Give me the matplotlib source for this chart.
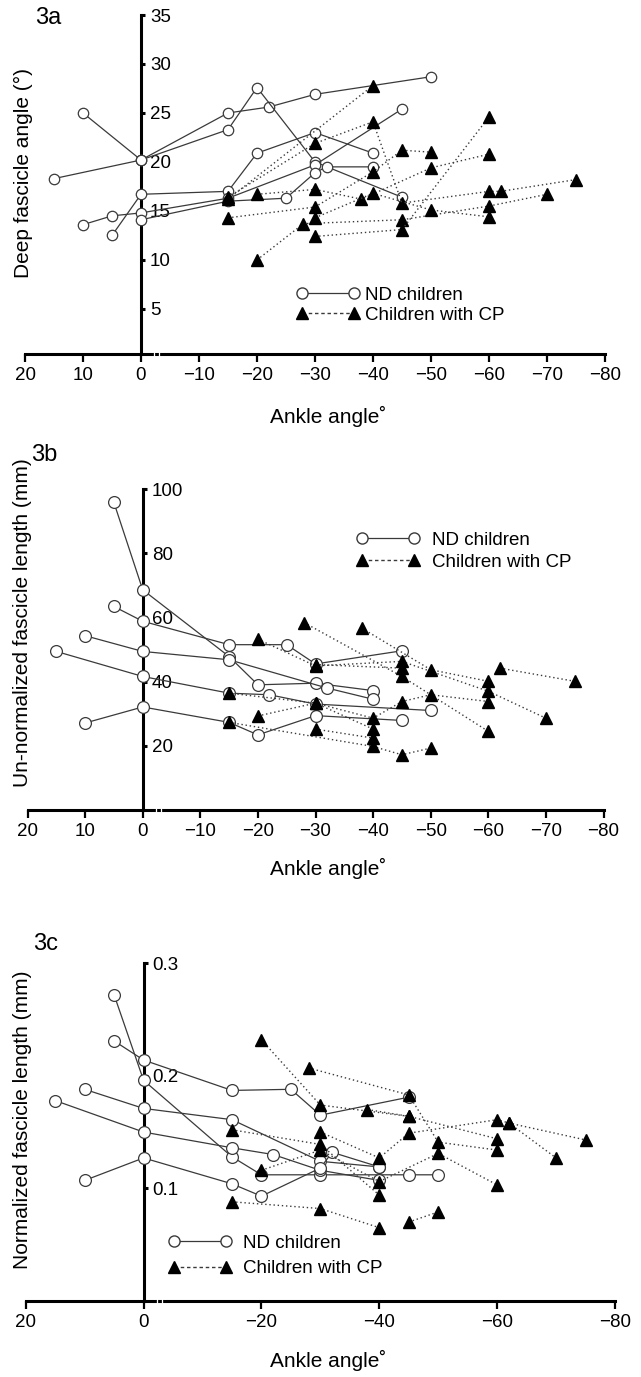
import matplotlib
matplotlib.use("Agg")
import matplotlib.pyplot as plt
from matplotlib.lines import Line2D

plt.rcParams["font.family"] = ["Liberation Sans", "DejaVu Sans"]

# ---- panel 3a: deep fascicle angle (deg) vs ankle angle ----
ND_A_X = [[15, 0, -15, -22, -30, -50],
          [10, 0, -15, -20, -30, -45],
          [5, 0, -15, -20, -30, -40],
          [10, 5, 0, -15, -30, -45],
          [0, -15, -25, -30, -32, -40]]
ND_A_Y = [[18.3, 20.2, 25.0, 25.6, 26.9, 28.7],
          [25.0, 20.2, 23.3, 27.6, 20.0, 16.4],
          [12.5, 16.7, 17.0, 20.9, 23.0, 20.9],
          [13.6, 14.5, 14.8, 16.3, 19.7, 25.4],
          [14.1, 16.0, 16.3, 18.9, 19.5, 19.5]]
CP_A_X = [[-15, -40],
          [-15, -30, -40, -45, -60, -62, -75],
          [-20, -28, -45, -60, -70],
          [-15, -30, -40, -45, -50],
          [-30, -45, -60],
          [-20, -30, -38, -50, -60],
          [-30, -40, -50, -60]]
CP_A_Y = [[16.2, 27.8],
          [16.4, 21.9, 24.1, 15.8, 17.0, 17.0, 18.2],
          [10.0, 13.7, 14.1, 15.5, 16.7],
          [14.3, 15.4, 19.0, 21.2, 21.0],
          [12.4, 13.1, 24.6],
          [16.7, 17.2, 16.2, 19.4, 20.8],
          [14.3, 16.8, 15.1, 14.4]]

# ---- panel 3b: un-normalized fascicle length (mm) ----
ND_B_X = [[5, 0, -15, -20, -30, -40],
          [5, 0, -15, -25, -30, -45],
          [10, 0, -15, -32, -40],
          [15, 0, -15, -22, -30, -50],
          [10, 0, -15, -20, -30, -45]]
ND_B_Y = [[95.8, 68.6, 47.8, 39.0, 39.5, 37.2],
          [63.4, 58.8, 51.5, 51.5, 45.5, 49.6],
          [54.3, 49.4, 46.8, 38.0, 34.5],
          [49.4, 41.6, 36.4, 35.9, 33.0, 31.0],
          [27.1, 32.1, 27.3, 23.4, 29.4, 27.9]]
CP_B_X = [[-20, -30, -45, -60, -70],
          [-28, -45, -60],
          [-38, -50, -60],
          [-62, -75],
          [-15, -30, -40, -45, -50, -60],
          [-20, -30, -40],
          [-15, -40, -45, -50],
          [-30, -40],
          [-30, -45]]
CP_B_Y = [[53.2, 44.9, 46.3, 37.0, 28.6],
          [58.4, 41.6, 24.5],
          [56.7, 43.7, 40.1],
          [44.2, 40.1],
          [36.4, 33.3, 28.6, 33.8, 35.9, 33.8],
          [29.3, 33.3, 25.2],
          [27.3, 19.8, 17.2, 19.3],
          [25.2, 22.4],
          [45.3, 44.2]]

# ---- panel 3c: normalized fascicle length ----
ND_C_X = [[5, 0, -15, -20, -30, -45, -50],
          [5, 0, -15, -25, -30, -45],
          [10, 0, -15, -30, -40],
          [15, 0, -15, -22, -30, -40],
          [10, 0, -15, -20, -30, -32, -40]]
ND_C_Y = [[0.272, 0.196, 0.128, 0.112, 0.112, 0.112, 0.112],
          [0.231, 0.214, 0.187, 0.188, 0.165, 0.181],
          [0.188, 0.171, 0.161, 0.124, 0.119],
          [0.178, 0.150, 0.136, 0.130, 0.116, 0.107],
          [0.107, 0.127, 0.104, 0.093, 0.118, 0.132, 0.119]]
CP_C_X = [[-20, -30, -45, -60],
          [-28, -45, -50, -60],
          [-30, -40, -45, -60, -62, -75],
          [-38, -45],
          [-15, -30, -40],
          [-15, -30, -40],
          [-45, -50],
          [-20, -30, -40, -50, -60],
          [-62, -70]]
CP_C_Y = [[0.232, 0.174, 0.164, 0.144],
          [0.207, 0.183, 0.141, 0.134],
          [0.150, 0.127, 0.149, 0.161, 0.158, 0.143],
          [0.170, 0.164],
          [0.152, 0.139, 0.094],
          [0.088, 0.082, 0.065],
          [0.070, 0.079],
          [0.116, 0.134, 0.106, 0.131, 0.103],
          [0.158, 0.127]]

W, H = 641, 1377
GREY = "#3a3a3a"
FS_TICK = 13.5
FS_LAB = 15


def px_box(left, right, top, bottom):
    return [left / W, 1 - bottom / H, (right - left) / W, (bottom - top) / H]


def draw_panel(ax, ndx, ndy, cpx, cpy, ylim, yticks, yticklabels, xticks, ms_c):
    for xs, ys in zip(ndx, ndy):
        ax.plot(xs, ys, color=GREY, lw=0.9, marker="o", ms=ms_c,
                mfc="white", mec=GREY, mew=0.9, zorder=3)
    for xs, ys in zip(cpx, cpy):
        ax.plot(xs, ys, color=GREY, lw=1.0, ls=(0, (1, 2)), marker="^", ms=9,
                mfc="black", mec="black", zorder=4)
    ax.set_xlim(20, -80)
    ax.set_ylim(*ylim)
    for s in ("top", "left"):
        ax.spines[s].set_visible(False)
    ax.spines["right"].set_position(("data", 0))
    ax.spines["right"].set_linewidth(2.2)
    ax.spines["bottom"].set_linewidth(2.2)
    ax.yaxis.set_ticks_position("right")
    ax.set_yticks(yticks)
    ax.set_yticklabels(yticklabels)
    ax.set_xticks(xticks)
    ax.tick_params(axis="x", direction="out", length=6, width=1.6, pad=3.5,
                   labelsize=FS_TICK)
    ax.tick_params(axis="y", direction="out", length=3, width=2.2, pad=3.5,
                   labelsize=FS_TICK)
    # small break marks on the ankle-angle axis
    for xb in (-2.3, -3.1):
        ax.plot([xb, xb], [-0.012, 0.012], transform=ax.get_xaxis_transform(),
                color="white", lw=0.9, clip_on=False, zorder=10)


def add_legend(ax, fig, x_marker1, y_row1, gap_text, row_gap):
    fs_px = FS_TICK * 100 / 72
    nd = Line2D([], [], color=GREY, lw=0.9, marker="o", ms=8, mfc="white", mec=GREY)
    cp = Line2D([], [], color=GREY, lw=1.0, ls=(0, (2.5, 2)), marker="^", ms=9,
                mfc="black", mec="black")
    hl = (52 + 0.6 * fs_px) / fs_px
    text_h = 1.117 * fs_px - 3.5   # measured row pitch at labelspacing 0
    leg = ax.legend([nd, cp], ["ND children", "Children with CP"], numpoints=2,
                    frameon=False, fontsize=FS_TICK, handlelength=hl,
                    handletextpad=(gap_text - 0.3 * fs_px) / fs_px,
                    labelspacing=(row_gap - text_h) / fs_px,
                    borderpad=0, borderaxespad=0, loc="upper left",
                    bbox_to_anchor=((x_marker1 - 0.3 * fs_px) / W,
                                    1 - (y_row1 - 6.5) / H),
                    bbox_transform=fig.transFigure)
    return leg


fig = plt.figure(figsize=(W / 100, H / 100), dpi=100)

ax_a = fig.add_axes(px_box(25, 605, 15, 354))
draw_panel(ax_a, ND_A_X, ND_A_Y, CP_A_X, CP_A_Y, (0.4, 35),
           [5, 10, 15, 20, 25, 30, 35], ["5", "10", "15", "20", "25", "30", "35"],
           list(range(20, -81, -10)), 7.5)
add_legend(ax_a, fig, 302, 293, 11, 20.5)

ax_b = fig.add_axes(px_box(27.5, 603.5, 489, 810))
draw_panel(ax_b, ND_B_X, ND_B_Y, CP_B_X, CP_B_Y, (0, 100),
           [20, 40, 60, 80, 100], ["20", "40", "60", "80", "100"],
           list(range(20, -81, -10)), 8.5)
add_legend(ax_b, fig, 362, 538, 18, 22.5)

ax_c = fig.add_axes(px_box(25.7, 615, 963.3, 1300.8))
draw_panel(ax_c, ND_C_X, ND_C_Y, CP_C_X, CP_C_Y, (0, 0.3),
           [0.1, 0.2, 0.3], ["0.1", "0.2", "0.3"],
           list(range(20, -81, -20)), 8.5)
add_legend(ax_c, fig, 174, 1241, 17, 26)

# axis titles and panel letters
for cx, cy, txt in [(23, 173, "Deep fascicle angle (\u00b0)"),
                    (23, 623, "Un-normalized fascicle length (mm)"),
                    (23, 1120, "Normalized fascicle length (mm)")]:
    fig.text(cx / W, 1 - cy / H, txt, rotation=90, ha="center", va="center",
             fontsize=FS_LAB)
for cy in (416, 868, 1360):
    fig.text(328 / W, 1 - cy / H, "Ankle angle\u02da", ha="center", va="center",
             fontsize=FS_LAB)
for cx, cy, txt in [(48, 18, "3a"), (44, 455, "3b"), (46, 944, "3c")]:
    fig.text(cx / W, 1 - cy / H, txt, ha="center", va="center", fontsize=17)

fig.savefig("out.png", dpi=100)
